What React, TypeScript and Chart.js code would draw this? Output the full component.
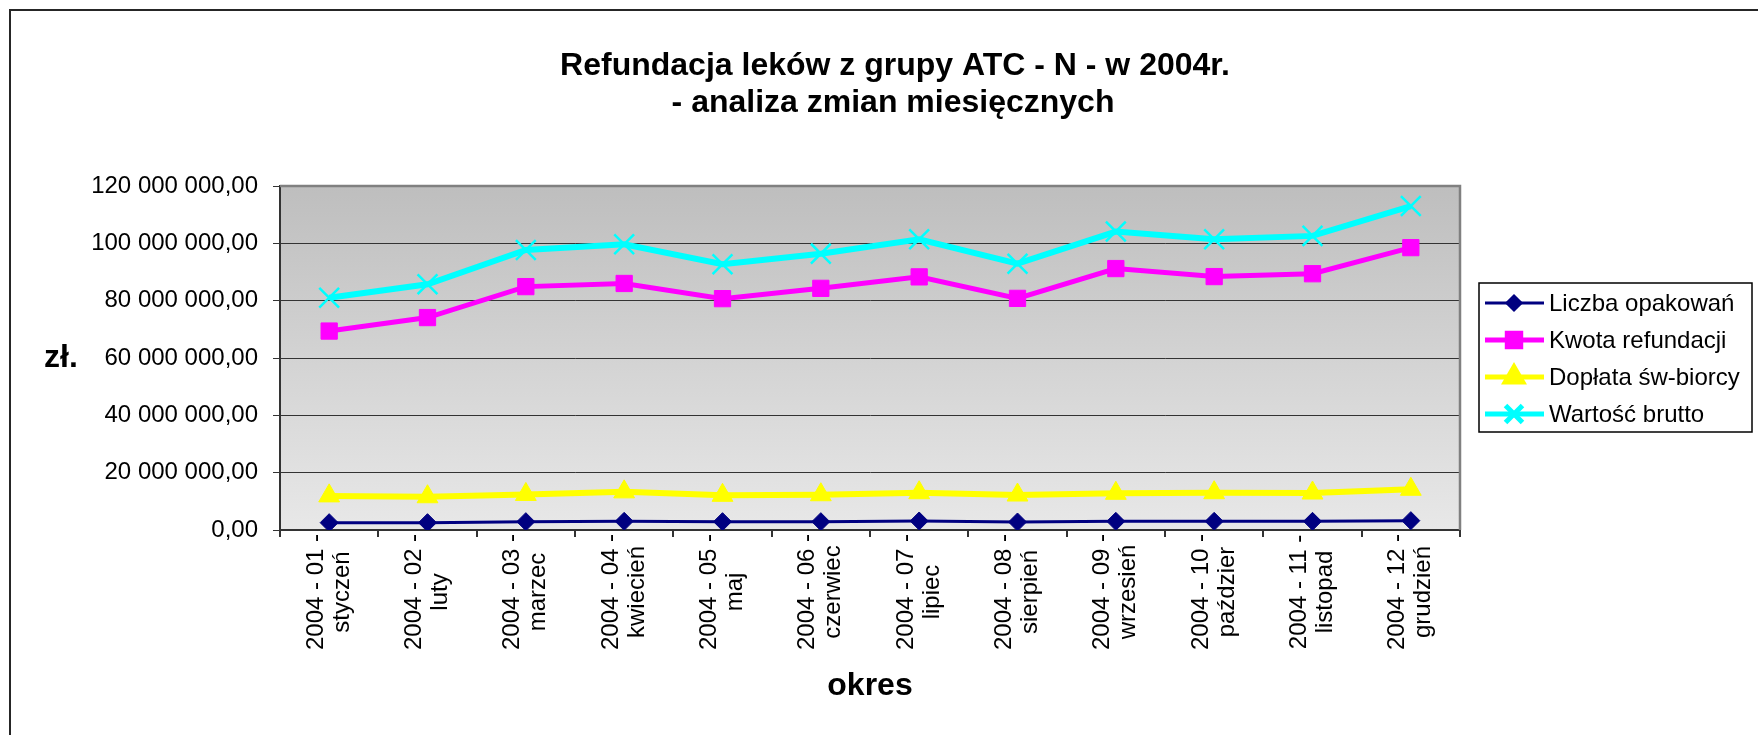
import React, { useEffect, useRef } from 'react';
import { Chart, registerables } from 'chart.js';
import { drawPoint } from 'chart.js/helpers';

Chart.register(...registerables);

// ---- data ----
const periods = [
  '2004 - 01 -', '2004 - 02 -', '2004 - 03 -', '2004 - 04 -', '2004 - 05 -', '2004 - 06 -',
  '2004 - 07 -', '2004 - 08 -', '2004 - 09 -', '2004 - 10 -', '2004 - 11 -', '2004 - 12 -',
];
const monthNames = [
  'styczeń', 'luty', 'marzec', 'kwiecień', 'maj', 'czerwiec',
  'lipiec', 'sierpień', 'wrzesień', 'paździer', 'listopad', 'grudzień',
];
const liczbaOpakowan = [2560000, 2560000, 2910000, 3020000, 2910000, 2910000, 3140000, 2790000, 3020000, 3020000, 3020000, 3260000];
const kwotaRefundacji = [69400000, 74100000, 84900000, 86000000, 80700000, 84300000, 88300000, 80800000, 91200000, 88400000, 89400000, 98500000];
const doplataSwBiorcy = [11900000, 11600000, 12400000, 13300000, 12100000, 12300000, 13000000, 12200000, 12800000, 13000000, 12900000, 14200000];
const wartoscBrutto = [81000000, 85700000, 97700000, 99700000, 92700000, 96400000, 101400000, 92900000, 104100000, 101400000, 102600000, 113000000];
const seriesNames = ['Liczba opakowań', 'Kwota refundacji', 'Dopłata św-biorcy', 'Wartość brutto'];
const titleLines = ['Refundacja leków z grupy ATC - N - w 2004r.', '- analiza zmian miesięcznych'];
const yAxisTitle = 'zł.';
const xAxisTitle = 'okres';
const yMin = 0;
const yMax = 120000000;
const yStep = 20000000;

const FONT = "'Liberation Sans', Arial, sans-serif";

function fmt(v: number): string {
  const [i, d] = Number(v).toFixed(2).split('.');
  return i.replace(/\B(?=(\d{3})+(?!\d))/g, ' ') + ',' + d;
}

const decor = {
  id: 'decor',
  beforeDraw(chart: any) {
    const { ctx, chartArea: a } = chart;
    ctx.save();
    ctx.fillStyle = '#ffffff';
    ctx.fillRect(0, 0, chart.width, chart.height);
    // outer frame (cut by the window at right and bottom)
    ctx.strokeStyle = '#262626';
    ctx.lineWidth = 2;
    ctx.beginPath();
    ctx.moveTo(10, chart.height + 5);
    ctx.lineTo(10, 10);
    ctx.lineTo(chart.width + 5, 10);
    ctx.stroke();
    // plot area gradient
    const g = ctx.createLinearGradient(0, a.top, 0, a.bottom);
    g.addColorStop(0, '#bebebe');
    g.addColorStop(1, '#e8e8e8');
    ctx.fillStyle = g;
    ctx.fillRect(a.left, a.top, a.right - a.left, a.bottom - a.top);
    // titles
    ctx.fillStyle = '#000';
    ctx.font = `bold 32px ${FONT}`;
    ctx.textAlign = 'center';
    ctx.textBaseline = 'alphabetic';
    ctx.fillText(titleLines[0], 895, 75);
    ctx.fillText(titleLines[1], 893, 112);
    ctx.textBaseline = 'middle';
    ctx.fillText(yAxisTitle, 61, (a.top + a.bottom) / 2);
    ctx.fillText(xAxisTitle, (a.left + a.right) / 2, 686);
    ctx.restore();
  },
  beforeDatasetsDraw(chart: any) {
    const { ctx, chartArea: a } = chart;
    ctx.save();
    ctx.strokeStyle = '#808080';
    ctx.lineWidth = 2.5;
    ctx.beginPath();
    ctx.moveTo(a.left, a.top);
    ctx.lineTo(a.right, a.top);
    ctx.lineTo(a.right, a.bottom);
    ctx.stroke();
    ctx.restore();
  },
  afterDraw(chart: any) {
    const { ctx } = chart;
    const xs = chart.scales.x;
    ctx.save();
    // x category labels, rotated, two centred lines
    ctx.fillStyle = '#000';
    ctx.font = `24px ${FONT}`;
    ctx.textAlign = 'center';
    ctx.textBaseline = 'middle';
    for (let i = 0; i < periods.length; i++) {
      const x = xs.getPixelForValue(i);
      ctx.save();
      ctx.translate(x, 592);
      ctx.rotate(-Math.PI / 2);
      ctx.fillText(periods[i], 0, -13);
      ctx.fillText(monthNames[i], 0, 13);
      ctx.restore();
    }
    // legend
    const bx = 1479, by = 283, bw = 273, bh = 149;
    ctx.fillStyle = '#fff';
    ctx.fillRect(bx, by, bw, bh);
    ctx.strokeStyle = '#000';
    ctx.lineWidth = 1.5;
    ctx.strokeRect(bx, by, bw, bh);
    chart.data.datasets.forEach((ds: any, i: number) => {
      const y = by + 20 + i * 37;
      ctx.strokeStyle = ds.borderColor;
      ctx.lineWidth = ds.legendLineWidth;
      ctx.beginPath();
      ctx.moveTo(bx + 6, y);
      ctx.lineTo(bx + 65, y);
      ctx.stroke();
      ctx.fillStyle = ds.pointBackgroundColor;
      ctx.strokeStyle = ds.pointBorderColor;
      drawPoint(ctx, {
        pointStyle: ds.pointStyle,
        radius: ds.legendRadius,
        borderWidth: ds.pointBorderWidth,
        rotation: 0,
      } as any, bx + 35, y);
      ctx.fillStyle = '#000';
      ctx.font = `24px ${FONT}`;
      ctx.textAlign = 'left';
      ctx.textBaseline = 'middle';
      ctx.fillText(ds.label, bx + 70, y + 1);
    });
    ctx.restore();
  },
};

export default function App() {
  const ref = useRef<HTMLCanvasElement>(null);
  useEffect(() => {
    Chart.defaults.font.family = FONT;
    const chart = new Chart(ref.current as HTMLCanvasElement, {
      type: 'line',
      data: {
        labels: periods.map((p, i) => [p, monthNames[i]]),
        datasets: [
          {
            label: seriesNames[0], data: liczbaOpakowan,
            borderColor: '#000080', backgroundColor: '#000080',
            pointBackgroundColor: '#000080', pointBorderColor: '#000080',
            borderWidth: 3, pointStyle: 'rectRot', pointRadius: 9, pointBorderWidth: 1,
            legendLineWidth: 3, legendRadius: 7,
          } as any,
          {
            label: seriesNames[1], data: kwotaRefundacji,
            borderColor: '#FF00FF', backgroundColor: '#FF00FF',
            pointBackgroundColor: '#FF00FF', pointBorderColor: '#FF00FF',
            borderWidth: 5, pointStyle: 'rect', pointRadius: 11.5, pointBorderWidth: 1,
            legendLineWidth: 5, legendRadius: 9.5,
          } as any,
          {
            label: seriesNames[2], data: doplataSwBiorcy,
            borderColor: '#FFFF00', backgroundColor: '#FFFF00',
            pointBackgroundColor: '#FFFF00', pointBorderColor: '#FFFF00',
            borderWidth: 6, pointStyle: 'triangle', pointRadius: 12, pointBorderWidth: 1,
            legendLineWidth: 5, legendRadius: 10,
          } as any,
          {
            label: seriesNames[3], data: wartoscBrutto,
            borderColor: '#00FFFF', backgroundColor: '#00FFFF',
            pointBackgroundColor: '#00FFFF', pointBorderColor: '#00FFFF',
            borderWidth: 6, pointStyle: 'crossRot', pointRadius: 14, pointBorderWidth: 2.5,
            legendLineWidth: 5, legendRadius: 12,
          } as any,
        ],
      },
      options: {
        responsive: false,
        animation: false,
        devicePixelRatio: 1,
        layout: { padding: { left: 0, top: 186, right: 298, bottom: 0 } },
        plugins: { legend: { display: false }, title: { display: false }, tooltip: { enabled: false } },
        elements: { line: { tension: 0 } },
        scales: {
          x: {
            type: 'category',
            offset: true,
            grid: { display: true, drawOnChartArea: false, drawTicks: true, tickLength: 7, offset: true, color: '#333', lineWidth: 2 },
            border: { display: true, color: '#333', width: 2 },
            ticks: { display: false },
            afterFit: (s: any) => { s.height = 205; },
          },
          y: {
            min: yMin,
            max: yMax,
            ticks: {
              stepSize: yStep,
              callback: (v: any) => fmt(Number(v)),
              color: '#000',
              font: { size: 24, family: FONT },
              padding: 15,
            },
            grid: { color: '#333', lineWidth: 1, tickLength: 7, drawTicks: true },
            border: { display: true, color: '#333', width: 2 },
            afterFit: (s: any) => { s.width = 280; },
          },
        },
      } as any,
      plugins: [decor as any],
    });
    return () => chart.destroy();
  }, []);
  return (
    <div style={{ position: 'fixed', left: 0, top: 0, width: 1758, height: 735, background: '#fff' }}>
      <canvas ref={ref} width={1758} height={735} style={{ display: 'block', width: 1758, height: 735 }} />
    </div>
  );
}
